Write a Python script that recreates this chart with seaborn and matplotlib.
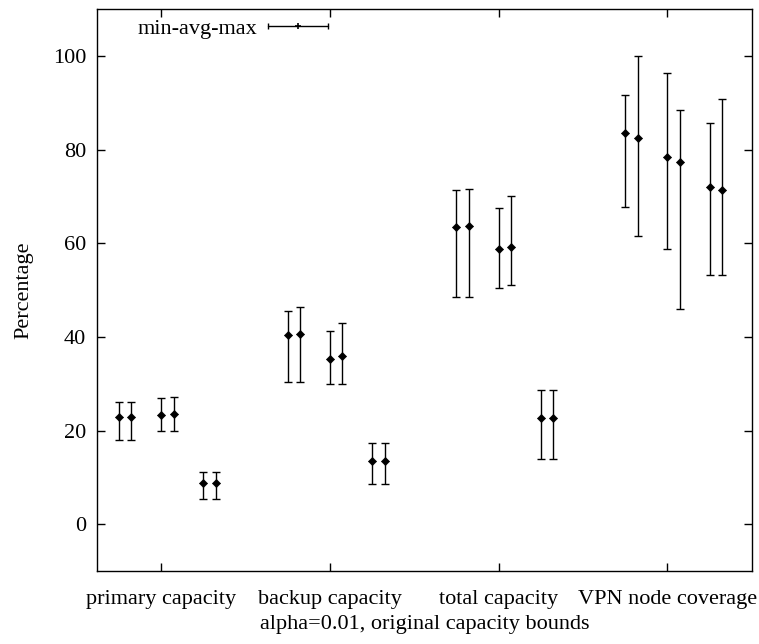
import numpy as np
import pandas as pd
import matplotlib
matplotlib.use("Agg")
import matplotlib.pyplot as plt
from matplotlib.lines import Line2D
from matplotlib.legend_handler import HandlerBase
import seaborn as sns

# Metric groups along the x axis
groups = ["primary capacity", "backup capacity", "total capacity", "VPN node coverage"]

# min / avg / max per configuration (six runs per metric)
primary_min = [18.0, 18.0, 19.8, 20.0, 5.4, 5.4]
primary_avg = [22.9, 22.9, 23.3, 23.5, 8.9, 8.9]
primary_max = [26.2, 26.2, 26.9, 27.2, 11.2, 11.2]

backup_min = [30.3, 30.3, 29.9, 29.9, 8.5, 8.5]
backup_avg = [40.4, 40.6, 35.3, 35.9, 13.6, 13.6]
backup_max = [45.6, 46.3, 41.2, 42.9, 17.4, 17.4]

total_min = [48.5, 48.5, 50.4, 51.1, 14.0, 14.0]
total_avg = [63.4, 63.6, 58.7, 59.3, 22.7, 22.7]
total_max = [71.3, 71.7, 67.5, 70.2, 28.7, 28.7]

vpn_min = [67.7, 61.6, 58.8, 45.9, 53.3, 53.3]
vpn_avg = [83.6, 82.4, 78.4, 77.3, 72.1, 71.4]
vpn_max = [91.6, 100.0, 96.4, 88.4, 85.6, 90.8]

y_ticks = [0, 20, 40, 60, 80, 100]

# horizontal offsets of the six runs around each group tick
offsets = [-0.25, -0.175, 0.0, 0.075, 0.25, 0.325]

series = [
    (primary_min, primary_avg, primary_max),
    (backup_min, backup_avg, backup_max),
    (total_min, total_avg, total_max),
    (vpn_min, vpn_avg, vpn_max),
]

rows = []
for gi, (mins, avgs, maxs) in enumerate(series):
    for k, off in enumerate(offsets):
        rows.append({"group": groups[gi], "x": gi + 1 + off,
                     "min": mins[k], "avg": avgs[k], "max": maxs[k]})
df = pd.DataFrame(rows)

sns.set_style("ticks")
plt.rcParams["font.family"] = ["Liberation Serif", "DejaVu Serif"]
plt.rcParams["text.color"] = "black"
plt.rcParams["xtick.color"] = "black"
plt.rcParams["ytick.color"] = "black"
plt.rcParams["axes.labelcolor"] = "black"
FS = 16
plt.rcParams["font.size"] = FS

fig = plt.figure(figsize=(7.59, 6.44), dpi=100)
ax = fig.add_axes([0.1282, 0.1134, 0.9904 - 0.1282, 0.9856 - 0.1134])

ax.errorbar(df["x"], df["avg"],
            yerr=[df["avg"] - df["min"], df["max"] - df["avg"]],
            fmt="none", ecolor="black", elinewidth=1.0, capsize=2.6, capthick=1.0,
            zorder=2)
sns.scatterplot(data=df, x="x", y="avg", ax=ax, marker="D", s=17,
                color="black", edgecolor="black", linewidth=0.5, zorder=3,
                legend=False)

ax.set_xlim(0.623, 4.5)
ax.set_ylim(-10, 110)
ax.set_xticks(range(1, len(groups) + 1))
ax.set_xticklabels(groups)
ax.set_yticks(y_ticks)
ax.set_yticklabels([str(t) for t in y_ticks])

ax.tick_params(axis="both", which="both", direction="in", length=6, width=1,
               top=True, right=True, labelsize=FS, color="black",
               labelcolor="black")
ax.tick_params(axis="y", pad=8)
ax.tick_params(axis="x", pad=14)
for sp in ax.spines.values():
    sp.set_visible(True)
    sp.set_linewidth(1.0)
    sp.set_color("black")

ax.set_xlabel("alpha=0.01, original capacity bounds", fontsize=FS, labelpad=4)
ax.set_ylabel("Percentage", fontsize=FS, labelpad=14)


class MinAvgMaxHandler(HandlerBase):
    """Horizontal bar with end caps and a centre point."""
    def create_artists(self, legend, orig_handle, xdescent, ydescent,
                       width, height, fontsize, trans):
        y = height / 2 - ydescent
        x0, x1 = -xdescent, -xdescent + width
        bar = Line2D([x0, x1], [y, y], color="black", lw=1.0)
        caps = Line2D([x0, x1], [y, y], ls="none", marker="|",
                      markersize=5, mew=1.0, color="black")
        mid = Line2D([(x0 + x1) / 2], [y], ls="none", marker="+",
                     markersize=5, mew=1.2, color="black")
        for a in (bar, caps, mid):
            a.set_transform(trans)
        return [bar, caps, mid]


proxy = Line2D([], [], color="black")
ax.legend([proxy], ["min-avg-max"], handler_map={Line2D: MinAvgMaxHandler()},
          loc="center left", bbox_to_anchor=(0.062, 0.965),
          frameon=False, markerfirst=False, borderpad=0, borderaxespad=0,
          handlelength=2.7, handletextpad=0.45, fontsize=FS)

fig.savefig("out.png", dpi=100)
